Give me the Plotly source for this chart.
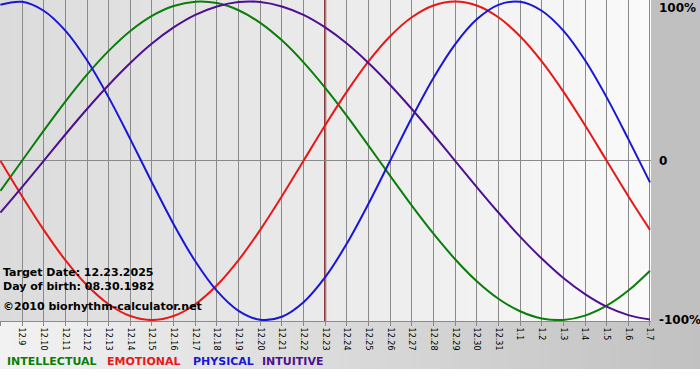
import plotly.graph_objects as go

# ---------------- data ----------------
dates = ["12.8", "12.9", "12.10", "12.11", "12.12", "12.13", "12.14", "12.15", "12.16",
         "12.17", "12.18", "12.19", "12.20", "12.21", "12.22", "12.23", "12.24", "12.25",
         "12.26", "12.27", "12.28", "12.29", "12.30", "12.31", "1.1", "1.2", "1.3", "1.4",
         "1.5", "1.6", "1.7"]

intellectual = [-0.189, 0.0, 0.189, 0.372, 0.541, 0.690, 0.815, 0.910, 0.972, 0.999,
                0.990, 0.945, 0.866, 0.756, 0.618, 0.458, 0.282, 0.095, -0.095, -0.282,
                -0.458, -0.618, -0.756, -0.866, -0.945, -0.990, -0.999, -0.972, -0.910,
                -0.815, -0.690]
emotional = [0.0, -0.223, -0.434, -0.624, -0.782, -0.901, -0.975, -1.0, -0.975, -0.901,
             -0.782, -0.624, -0.434, -0.223, 0.0, 0.223, 0.434, 0.624, 0.782, 0.901,
             0.975, 1.0, 0.975, 0.901, 0.782, 0.624, 0.434, 0.223, 0.0, -0.223, -0.434]
physical = [0.979, 0.998, 0.942, 0.817, 0.631, 0.398, 0.136, -0.136, -0.398, -0.631,
            -0.817, -0.942, -0.998, -0.979, -0.888, -0.731, -0.520, -0.270, 0.0, 0.270,
            0.520, 0.731, 0.888, 0.979, 0.998, 0.942, 0.817, 0.631, 0.398, 0.136, -0.136]
intuitive = [-0.325, -0.165, 0.0, 0.165, 0.325, 0.476, 0.614, 0.736, 0.837, 0.916,
             0.969, 0.997, 0.997, 0.969, 0.916, 0.837, 0.736, 0.614, 0.476, 0.325,
             0.165, 0.0, -0.165, -0.325, -0.476, -0.614, -0.736, -0.837, -0.916,
             -0.969, -0.997]

target_date = "12.23"
y_tick_values = [1, 0, -1]
y_tick_labels = ["100%", "0", "-100%"]
info_lines = ["Target Date: 12.23.2025", "Day of birth: 08.30.1982",
              "\u00a92010 biorhythm-calculator.net"]
series_names = ["INTELLECTUAL", "EMOTIONAL", "PHYSICAL", "INTUITIVE"]

# ---------------- styles / layout ----------------
W, H = 700, 380
ML, MR, MT, MB = 0, 49, 0, 59
PW, PH = W - ML - MR, H - MT - MB
FONT = "DejaVu Sans"
colors = ["#0a7d0a", "#e81818", "#1818d4", "#4e1090"]
legend_x_px = [7, 107, 193, 262]
info_y_px = [272, 286, 306]

x = list(range(len(dates)))
series = [intellectual, emotional, physical, intuitive]

fig = go.Figure()
for name, vals, col in zip(series_names, series, colors):
    fig.add_trace(go.Scatter(x=x, y=vals, mode="lines", name=name,
                             line=dict(color=col, width=2, shape="spline", smoothing=1.0),
                             showlegend=False, hoverinfo="skip"))

shapes = []


def gray(v):
    v = int(round(v))
    return f"rgb({v},{v},{v})"


# plot-area gradient (light gray -> near white)
n = 65
for i in range(n):
    c = 219 + (250 - 219) * (i + 0.5) / n
    shapes.append(dict(type="rect", xref="paper", yref="paper",
                       x0=i / n, x1=(i + 1) / n + 0.002, y0=0, y1=1,
                       fillcolor=gray(c), line=dict(width=0), layer="below"))
# right panel
shapes.append(dict(type="rect", xref="paper", yref="paper",
                   x0=1, x1=W / PW, y0=0, y1=1,
                   fillcolor="#c0c0c0", line=dict(width=0), layer="below"))
# bottom band gradient
band_bottom = -48 / PH
n2 = 70
for i in range(n2):
    c = 242 - (242 - 193) * (i + 0.5) / n2
    shapes.append(dict(type="rect", xref="paper", yref="paper",
                       x0=(i / n2) * W / PW, x1=((i + 1) / n2) * W / PW + 0.002,
                       y0=band_bottom, y1=0,
                       fillcolor=gray(c), line=dict(width=0), layer="below"))
# target date marker
ti = dates.index(target_date)
shapes.append(dict(type="line", xref="x", yref="paper", x0=x[ti], x1=x[ti], y0=0, y1=1,
                   line=dict(color="#6e1414", width=2), layer="between"))

annotations = []
for txt, ypx in zip(info_lines, info_y_px):
    annotations.append(dict(text=f"<b>{txt}</b>", xref="paper", yref="paper",
                            x=0, y=(PH - ypx) / PH, xanchor="left", yanchor="middle",
                            xshift=1, showarrow=False,
                            font=dict(family=FONT, size=11, color="#000000")))
for txt, xpx, col in zip(series_names, legend_x_px, colors):
    annotations.append(dict(text=f"<b>{txt}</b>", xref="paper", yref="paper",
                            x=xpx / PW, y=(PH - 362) / PH, xanchor="left", yanchor="middle",
                            xshift=-2, showarrow=False,
                            font=dict(family=FONT, size=11, color=col)))
for v, lab in zip(y_tick_values, y_tick_labels):
    annotations.append(dict(text=f"<b>{lab}</b>", xref="paper", yref="y",
                            x=1, y=v, xanchor="left", yanchor="middle",
                            xshift=6, yshift=-6 if v == 1 else 0, showarrow=False,
                            font=dict(family=FONT, size=12, color="#000000")))

fig.update_layout(
    width=W, height=H,
    margin=dict(l=ML, r=MR, t=MT, b=MB, pad=0),
    paper_bgcolor="#ffffff",
    plot_bgcolor="rgba(0,0,0,0)",
    shapes=shapes,
    annotations=annotations,
    xaxis=dict(range=[-0.018, 30.047], tickmode="array", tickvals=x, ticktext=dates,
               tickangle=90, tickfont=dict(family=FONT, size=8, color="#000000"),
               showgrid=True, gridcolor="#8a8a8a", gridwidth=1,
               showline=True, linecolor="#8a8a8a", linewidth=1, mirror=True,
               ticks="outside", ticklen=4, tickcolor="#8a8a8a", zeroline=False,
               fixedrange=True),
    yaxis=dict(range=[-1.006, 1.0094], showgrid=False, zeroline=True,
               zerolinecolor="#8a8a8a", zerolinewidth=1, showticklabels=False,
               showline=False, ticks="", fixedrange=True),
    showlegend=False,
)

fig.write_html("out.html", config={"displayModeBar": False, "staticPlot": True},
               post_script="document.body.style.margin='0';document.body.style.overflow='hidden';")
